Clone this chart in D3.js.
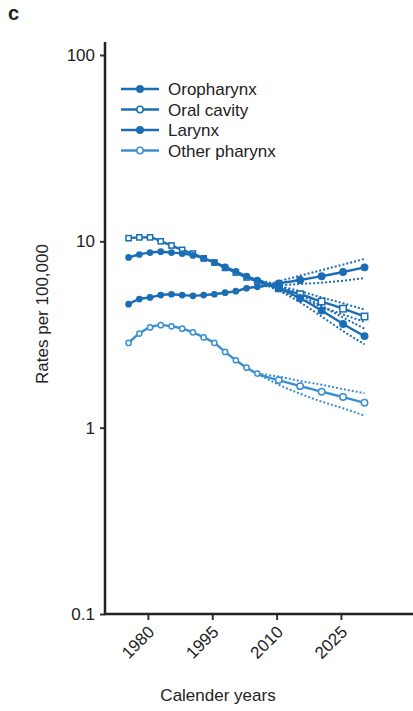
<!DOCTYPE html>
<html>
<head>
<meta charset="utf-8">
<script src="https://cdn.jsdelivr.net/npm/d3@7"></script>
<style>
  body { margin: 0; background: #fff; }
  text { font-family: "Liberation Sans", Arial, sans-serif; fill: #222; }
</style>
</head>
<body>
<div id="app"></div>
<script>
// observed years (2.5-yr steps) then projection years (5-yr steps)
const obsYears = [1975.5, 1978, 1980.5, 1983, 1985.5, 1988, 1990.5, 1993, 1995.5, 1998, 2000.5, 2003, 2005.5];
const projYears = [2005.5, 2010.5, 2015.5, 2020.5, 2025.5, 2030.5];

const oropharynxObs = [4.6, 4.9, 5.0, 5.15, 5.2, 5.15, 5.1, 5.15, 5.2, 5.3, 5.4, 5.6, 5.7];
const oralCavityObs = [10.4, 10.5, 10.5, 10.0, 9.5, 9.0, 8.6, 8.1, 7.7, 7.2, 6.8, 6.4, 6.1];
const larynxObs = [8.2, 8.5, 8.7, 8.8, 8.7, 8.6, 8.4, 8.1, 7.7, 7.3, 6.9, 6.5, 6.2];
const otherPharynxObs = [2.85, 3.2, 3.45, 3.55, 3.5, 3.4, 3.25, 3.05, 2.85, 2.55, 2.3, 2.1, 1.95];

const oropharynxProj = [5.7, 5.95, 6.2, 6.5, 6.85, 7.25];
const oropharynxLo = [5.7, 5.8, 5.9, 6.0, 6.15, 6.35];
const oropharynxHi = [5.7, 6.1, 6.55, 7.0, 7.5, 8.05];
const oralCavityProj = [6.1, 5.6, 5.2, 4.75, 4.35, 3.95];
const oralCavityLo = [6.1, 5.45, 4.95, 4.45, 4.05, 3.7];
const oralCavityHi = [6.1, 5.75, 5.4, 5.0, 4.65, 4.3];
const larynxProj = [6.2, 5.6, 4.95, 4.25, 3.6, 3.1];
const larynxLo = [6.2, 5.45, 4.7, 3.95, 3.3, 2.8];
const larynxHi = [6.2, 5.8, 5.15, 4.5, 3.9, 3.4];
const otherPharynxProj = [1.95, 1.8, 1.67, 1.56, 1.46, 1.36];
const otherPharynxLo = [1.95, 1.7, 1.52, 1.38, 1.27, 1.16];
const otherPharynxHi = [1.95, 1.88, 1.78, 1.7, 1.61, 1.53];

const yTicks = [0.1, 1, 10, 100];
const xTicks = [1980, 1995, 2010, 2025];
const seriesNames = ["Oropharynx", "Oral cavity", "Larynx", "Other pharynx"];

const colorDark = "#1b6db5";
const colorLight = "#3b8fd1";

const series = [
  { name: seriesNames[0], obs: oropharynxObs, proj: oropharynxProj, lo: oropharynxLo, hi: oropharynxHi, filled: true, shape: "circle", color: colorDark },
  { name: seriesNames[1], obs: oralCavityObs, proj: oralCavityProj, lo: oralCavityLo, hi: oralCavityHi, filled: false, shape: "square", color: colorDark },
  { name: seriesNames[2], obs: larynxObs, proj: larynxProj, lo: larynxLo, hi: larynxHi, filled: true, shape: "circle", color: colorDark },
  { name: seriesNames[3], obs: otherPharynxObs, proj: otherPharynxProj, lo: otherPharynxLo, hi: otherPharynxHi, filled: false, shape: "circle", color: colorLight }
];

const width = 413, height = 711;

const svg = d3.select("#app").append("svg")
  .attr("width", width)
  .attr("height", height);

const x = d3.scaleLinear().domain([1970, 2041.8]).range([105, 413]);
const y = d3.scaleLog().domain([0.1, 100]).range([614, 55]);

// panel letter
svg.append("text")
  .attr("x", 8).attr("y", 20)
  .style("font-size", "20px").style("font-weight", "bold")
  .text("c");

// axes
const yAxis = svg.append("g")
  .attr("transform", "translate(105,0)")
  .call(d3.axisLeft(y).tickValues(yTicks).tickFormat(d3.format("")).tickSize(5).tickSizeOuter(0));
yAxis.select(".domain").remove();
yAxis.selectAll(".tick line").attr("stroke", "#333").attr("stroke-width", 2);
yAxis.selectAll(".tick text").attr("x", -10).style("font-size", "17px").attr("fill", "#222");

svg.append("line")
  .attr("x1", 105).attr("x2", 105).attr("y1", 42).attr("y2", 615)
  .attr("stroke", "#222").attr("stroke-width", 2.5);

const xAxis = svg.append("g")
  .attr("transform", "translate(0,614)")
  .call(d3.axisBottom(x).tickValues(xTicks).tickFormat(d3.format("d")).tickSize(6).tickSizeOuter(0));
xAxis.select(".domain").remove();
xAxis.selectAll(".tick line").attr("stroke", "#333").attr("stroke-width", 2);
xAxis.selectAll(".tick text")
  .style("font-size", "17px")
  .attr("fill", "#222")
  .attr("text-anchor", "end")
  .attr("dy", null).attr("y", 0)
  .attr("transform", "translate(7,19) rotate(-45)");

svg.append("line")
  .attr("x1", 104).attr("x2", 413).attr("y1", 614).attr("y2", 614)
  .attr("stroke", "#222").attr("stroke-width", 2.5);

svg.append("text")
  .attr("x", 218).attr("y", 701)
  .attr("text-anchor", "middle")
  .style("font-size", "17px")
  .text("Calender years");

svg.append("text")
  .attr("transform", "translate(48,314) rotate(-90)")
  .attr("text-anchor", "middle")
  .style("font-size", "17px")
  .text("Rates per 100,000");

// series
const line = d3.line().x(d => x(d[0])).y(d => y(d[1])).curve(d3.curveMonotoneX);

function drawMarker(g, shape, px, py, s, r) {
  if (shape === "square") {
    g.append("rect")
      .attr("x", px - r).attr("y", py - r)
      .attr("width", 2 * r).attr("height", 2 * r)
      .attr("fill", s.filled ? s.color : "#fff")
      .attr("stroke", s.color).attr("stroke-width", 1.5);
  } else {
    g.append("circle")
      .attr("cx", px).attr("cy", py).attr("r", r)
      .attr("fill", s.filled ? s.color : "#fff")
      .attr("stroke", s.color).attr("stroke-width", 1.5);
  }
}

const plot = svg.append("g");

series.forEach(s => {
  const g = plot.append("g");
  const obs = obsYears.map((yr, i) => [yr, s.obs[i]]);
  const proj = projYears.map((yr, i) => [yr, s.proj[i]]);
  const lo = projYears.map((yr, i) => [yr, s.lo[i]]);
  const hi = projYears.map((yr, i) => [yr, s.hi[i]]);

  [lo, hi].forEach(band => {
    g.append("path")
      .attr("d", line(band))
      .attr("fill", "none")
      .attr("stroke", s.color)
      .attr("stroke-width", 2)
      .attr("stroke-dasharray", "2,2");
  });

  g.append("path")
    .attr("d", line(obs.concat(proj.slice(1))))
    .attr("fill", "none")
    .attr("stroke", s.color)
    .attr("stroke-width", 2.4);

  obs.forEach(d => drawMarker(g, s.shape, x(d[0]), y(d[1]), s, 2.6));
  proj.slice(1).forEach(d => drawMarker(g, s.shape, x(d[0]), y(d[1]), s, 3.2));
});

// legend
const legend = svg.append("g");
series.forEach((s, i) => {
  const ly = 89 + i * 20.5;
  legend.append("line")
    .attr("x1", 121).attr("x2", 159).attr("y1", ly).attr("y2", ly)
    .attr("stroke", s.color).attr("stroke-width", 2.5);
  drawMarker(legend, "circle", 140, ly, s, 3.2);
  legend.append("text")
    .attr("x", 168).attr("y", ly + 6)
    .style("font-size", "17px")
    .text(s.name);
});
</script>
</body>
</html>
